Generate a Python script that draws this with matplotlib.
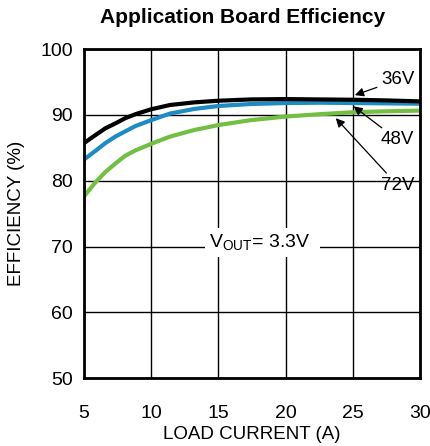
import matplotlib
matplotlib.use('Agg')
import matplotlib.pyplot as plt

plt.rcParams['font.family'] = ['Liberation Sans', 'DejaVu Sans']

load_current = [5, 5.84, 6.59, 7.34, 8.08, 8.83, 10, 11.4, 13.2, 15, 17.4, 20, 22.5, 25, 27.5, 30]
eff_36v = [85.7, 86.9, 87.95, 88.7, 89.5, 90.1, 90.85, 91.5, 91.9, 92.15, 92.35, 92.4, 92.35, 92.3, 92.2, 92.05]
eff_48v = [83.2, 84.5, 85.7, 86.7, 87.5, 88.3, 89.2, 90.2, 90.9, 91.35, 91.65, 91.8, 91.85, 91.8, 91.75, 91.7]
eff_72v = [77.6, 79.7, 81.3, 82.6, 83.8, 84.6, 85.6, 86.7, 87.7, 88.45, 89.2, 89.75, 90.1, 90.4, 90.55, 90.65]

x_ticks = [5, 10, 15, 20, 25, 30]
y_ticks = [50, 60, 70, 80, 90, 100]

fig = plt.figure(figsize=(4.3, 4.46), dpi=100)
ax = fig.add_axes([0.195, 0.152, 0.782, 0.738])

ax.plot(load_current, eff_72v, color='#72bf44', linewidth=3.0, solid_capstyle='butt')
ax.plot(load_current, eff_48v, color='#1e8bc3', linewidth=3.0, solid_capstyle='butt')
ax.plot(load_current, eff_36v, color='black', linewidth=3.0, solid_capstyle='butt')

ax.set_xlim(5, 30)
ax.set_ylim(50, 100)
ax.set_xticks(x_ticks)
ax.set_yticks(y_ticks)
ax.grid(True, color='black', linewidth=1.0)
ax.set_axisbelow(True)
ax.tick_params(axis='both', length=0, labelsize=14)
ax.tick_params(axis='x', pad=19)
ax.tick_params(axis='y', pad=8)
for sp in ax.spines.values():
    sp.set_linewidth(2.0)

ax.set_xlabel('LOAD CURRENT (A)', fontsize=13.5, labelpad=3)
ax.set_ylabel('EFFICIENCY (%)', fontsize=13.5, labelpad=11)
fig.text(0.565, 0.96, 'Application Board Efficiency', fontsize=15, fontweight='bold',
         ha='center', va='center')

arrow = dict(arrowstyle='-|>', color='black', linewidth=0.9, mutation_scale=13,
             shrinkA=1, shrinkB=0)
ax.annotate('36V', xy=(25.15, 93.0), xytext=(27.09, 95.3), fontsize=13.5, ha='left', va='center',
            arrowprops=arrow)
ax.annotate('48V', xy=(25.05, 91.3), xytext=(27.09, 86.2), fontsize=13.5, ha='left', va='center',
            arrowprops=arrow)
ax.annotate('72V', xy=(23.73, 89.5), xytext=(27.09, 79.3), fontsize=13.5, ha='left', va='center',
            arrowprops=arrow)

ax.text(14.33, 70.6, r'V$_{\mathregular{OUT}}$= 3.3V  ', fontsize=14, ha='left', va='center',
        bbox=dict(facecolor='white', edgecolor='none', pad=3))

fig.savefig('out.png', dpi=100)
